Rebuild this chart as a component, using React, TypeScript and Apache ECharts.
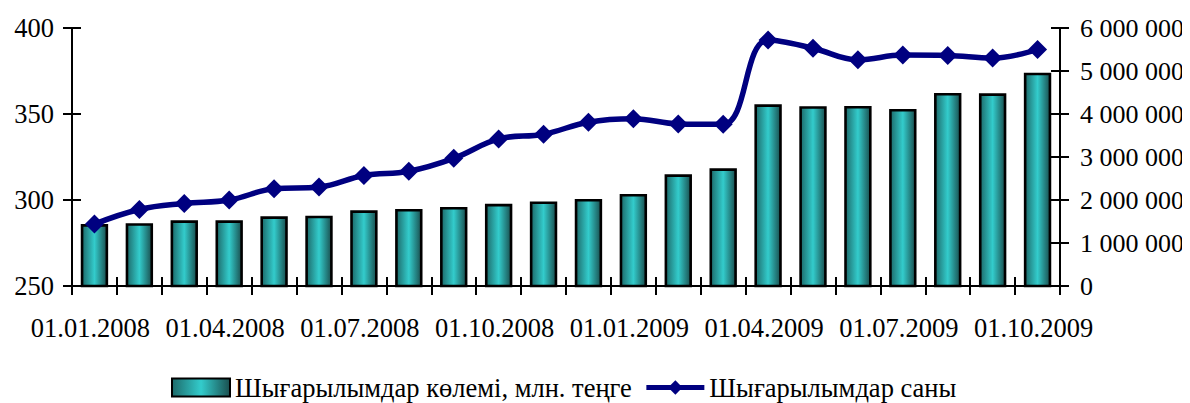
import React, { useEffect, useRef } from "react";
import * as echarts from "echarts";

const categories = [
  "01.01.2008", "01.02.2008", "01.03.2008", "01.04.2008", "01.05.2008", "01.06.2008",
  "01.07.2008", "01.08.2008", "01.09.2008", "01.10.2008", "01.11.2008", "01.12.2008",
  "01.01.2009", "01.02.2009", "01.03.2009", "01.04.2009", "01.05.2009", "01.06.2009",
  "01.07.2009", "01.08.2009", "01.09.2009", "01.10.2009",
];

const volumeValues = [
  286, 286.5, 288.2, 288.2, 290.5, 290.9, 294, 294.8, 296, 297.8, 299.2, 300.6,
  303.5, 314.9, 318.4, 355.6, 354.5, 354.7, 352.9, 362.2, 362, 374,
];

const countValues = [
  1440000, 1780000, 1920000, 2000000, 2260000, 2300000, 2570000, 2670000, 2970000,
  3420000, 3530000, 3810000, 3890000, 3770000, 3760000, 5720000, 5530000, 5260000,
  5370000, 5360000, 5300000, 5500000,
];

const volumeName = "Шығарылымдар көлемі, млн. теңге";
const countName = "Шығарылымдар саны";

const FONT = "Liberation Serif";

export default function App() {
  const ref = useRef<HTMLDivElement>(null);

  useEffect(() => {
    if (!ref.current) return;
    const chart = echarts.init(ref.current, null, { renderer: "svg" });
    const fmt = (v: number) =>
      String(Math.round(v)).replace(/\B(?=(\d{3})+(?!\d))/g, " ");
    const barGradient = new echarts.graphic.LinearGradient(0, 0, 1, 0, [
      { offset: 0, color: "#1d6a6a" },
      { offset: 0.5, color: "#33cccc" },
      { offset: 1, color: "#1a4f4f" },
    ]);
    chart.setOption({
      animation: false,
      backgroundColor: "#ffffff",
      textStyle: { fontFamily: FONT, color: "#000" },
      grid: { left: 72, right: 130, top: 28, bottom: 117, containLabel: false },
      legend: {
        left: 166,
        top: 369,
        itemWidth: 58,
        itemHeight: 18,
        itemGap: 12,
        textStyle: { fontFamily: FONT, fontSize: 26.5, color: "#000" },
        data: [
          { name: volumeName, icon: "rect" },
          { name: countName, lineStyle: { width: 5, color: "#000080" } },
        ],
      },
      xAxis: [
        {
          type: "category",
          data: categories,
          boundaryGap: true,
          axisLine: { lineStyle: { color: "#000", width: 2 } },
          axisTick: { show: true, interval: 0, length: 9, lineStyle: { color: "#000", width: 2 } },
          axisLabel: {
            interval: 2,
            margin: 28,
            fontSize: 26.5,
            fontFamily: FONT,
            color: "#000",
            padding: [0, 8, 0, 0],
          },
        },
        {
          type: "category",
          data: categories,
          position: "bottom",
          boundaryGap: true,
          axisLine: { show: false },
          axisTick: { show: true, inside: true, interval: 0, length: 9, lineStyle: { color: "#000", width: 2 } },
          axisLabel: { show: false },
        },
      ],
      yAxis: [
        {
          type: "value",
          min: 250,
          max: 400,
          interval: 50,
          position: "left",
          splitLine: { show: false },
          axisLine: { show: true, lineStyle: { color: "#000", width: 2 } },
          axisTick: { show: true, length: 9, lineStyle: { color: "#000", width: 2 } },
          axisLabel: { margin: 18, fontSize: 26.5, fontFamily: FONT, color: "#000" },
        },
        {
          type: "value",
          min: 0,
          max: 6000000,
          interval: 1000000,
          position: "right",
          splitLine: { show: false },
          axisLine: { show: true, lineStyle: { color: "#000", width: 2 } },
          axisTick: { show: true, length: 9, lineStyle: { color: "#000", width: 2 } },
          axisLabel: { margin: 20, fontSize: 26, fontFamily: FONT, color: "#000", formatter: fmt },
        },
        {
          type: "value",
          min: 250,
          max: 400,
          interval: 50,
          position: "left",
          splitLine: { show: false },
          axisLine: { show: false },
          axisTick: { show: true, inside: true, length: 9, lineStyle: { color: "#000", width: 2 } },
          axisLabel: { show: false },
        },
        {
          type: "value",
          min: 0,
          max: 6000000,
          interval: 1000000,
          position: "right",
          splitLine: { show: false },
          axisLine: { show: false },
          axisTick: { show: true, inside: true, length: 9, lineStyle: { color: "#000", width: 2 } },
          axisLabel: { show: false },
        },
      ],
      series: [
        {
          name: volumeName,
          type: "bar",
          xAxisIndex: 0,
          yAxisIndex: 0,
          data: volumeValues,
          barWidth: "61%",
          itemStyle: { color: barGradient, borderColor: "#000", borderWidth: 2.6 },
          z: 2,
        },
        {
          name: countName,
          type: "line",
          xAxisIndex: 0,
          yAxisIndex: 1,
          data: countValues,
          smooth: 0.4,
          symbol: "diamond",
          symbolSize: 19,
          lineStyle: { color: "#000080", width: 5.5 },
          itemStyle: { color: "#000080" },
          z: 3,
        },
      ],
    });
    return () => chart.dispose();
  }, []);

  return <div ref={ref} style={{ width: 1190, height: 403, marginLeft: -8, marginTop: -8 }} />;
}
